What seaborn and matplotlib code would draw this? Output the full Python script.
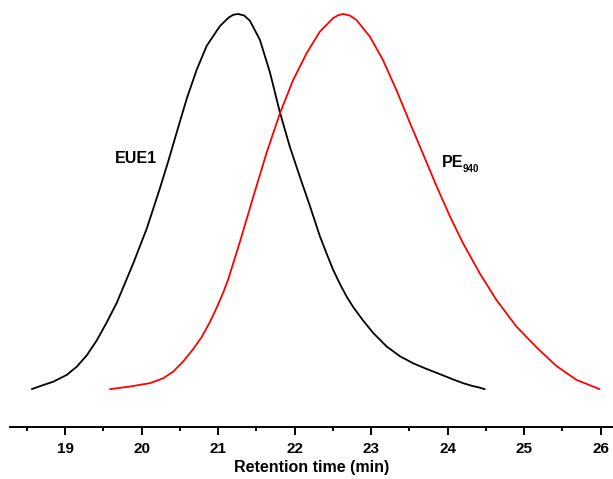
import matplotlib
matplotlib.use("Agg")
import matplotlib.pyplot as plt
import seaborn as sns
import pandas as pd
from matplotlib.ticker import MultipleLocator

# Data (retention time in min, normalized intensity)
eue1_time = [18.565, 18.674, 18.847, 19.022, 19.153, 19.283, 19.414, 19.544, 19.675,
             19.892, 20.067, 20.240, 20.349, 20.458, 20.589, 20.719, 20.850, 21.024,
             21.140, 21.200, 21.262, 21.340, 21.415, 21.546, 21.676, 21.807, 21.937,
             22.068, 22.198, 22.329, 22.416, 22.503, 22.590, 22.678, 22.764, 22.894,
             23.025, 23.200, 23.373, 23.547, 23.722, 23.873, 24.069, 24.200, 24.330,
             24.400, 24.483]
eue1_signal = [0.0, 0.008, 0.020, 0.038, 0.060, 0.090, 0.130, 0.178, 0.230,
               0.336, 0.428, 0.536, 0.608, 0.684, 0.774, 0.851, 0.915, 0.968,
               0.991, 0.998, 1.0, 0.996, 0.982, 0.931, 0.845, 0.738, 0.646,
               0.566, 0.489, 0.408, 0.362, 0.318, 0.281, 0.247, 0.219, 0.183,
               0.150, 0.114, 0.088, 0.069, 0.054, 0.042, 0.026, 0.016, 0.008,
               0.005, 0.0]

pe_time = [19.587, 19.849, 20.110, 20.283, 20.414, 20.544, 20.675, 20.785, 20.893,
           20.981, 21.067, 21.132, 21.285, 21.458, 21.633, 21.807, 21.980, 22.155,
           22.329, 22.503, 22.570, 22.633, 22.720, 22.808, 22.982, 23.155, 23.330,
           23.504, 23.678, 23.852, 24.026, 24.200, 24.418, 24.636, 24.897, 25.158,
           25.419, 25.680, 25.984]
pe_signal = [0.0, 0.007, 0.016, 0.029, 0.047, 0.074, 0.107, 0.139, 0.179,
             0.217, 0.258, 0.293, 0.393, 0.512, 0.630, 0.735, 0.824, 0.895,
             0.953, 0.989, 0.997, 1.0, 0.996, 0.984, 0.940, 0.877, 0.797,
             0.711, 0.627, 0.542, 0.462, 0.389, 0.309, 0.238, 0.167, 0.112,
             0.062, 0.025, 0.0]

x_ticks = [19, 20, 21, 22, 23, 24, 25, 26]
x_label = "Retention time (min)"
label_eue1 = "EUE1"
label_pe = "PE"
label_pe_sub = "940"

sns.set_style("ticks")
plt.rcParams["font.family"] = ["Liberation Sans", "DejaVu Sans"]
plt.rcParams["text.color"] = "black"
plt.rcParams["axes.labelcolor"] = "black"
plt.rcParams["xtick.color"] = "black"
plt.rcParams["axes.edgecolor"] = "black"

fig = plt.figure(figsize=(6.13, 4.79), dpi=100)
ax = fig.add_axes([10 / 613, 52.5 / 479, 603 / 613, 426.5 / 479])

df1 = pd.DataFrame({"t": eue1_time, "s": eue1_signal})
df2 = pd.DataFrame({"t": pe_time, "s": pe_signal})
sns.lineplot(data=df1, x="t", y="s", ax=ax, color="black", lw=1.3, sort=False)
sns.lineplot(data=df2, x="t", y="s", ax=ax, color="#ff0000", lw=1.3, sort=False)

ax.set_xlim(18.28, 26.16)
ax.set_ylim(-0.0996, 1.0373)

sns.despine(ax=ax, left=True, top=True, right=True)
ax.spines["bottom"].set_linewidth(1.4)
ax.spines["bottom"].set_color("black")
ax.set_yticks([])
ax.set_xticks(x_ticks)
ax.xaxis.set_minor_locator(MultipleLocator(0.5))
ax.tick_params(axis="x", which="major", direction="out", length=6, width=1.4,
               labelsize=11, pad=5.5, color="black", labelcolor="black")
ax.tick_params(axis="x", which="minor", direction="out", length=3.2, width=1.4,
               color="black")
for lab in ax.get_xticklabels():
    lab.set_fontweight("bold")
ax.set_xlabel(x_label, fontsize=11.5, fontweight="bold", labelpad=2.5, color="black")
ax.set_ylabel("")

ax.text(19.93, 0.616, label_eue1, ha="center", va="center",
        fontsize=11.5, fontweight="bold", color="black")
ax.text(23.92, 0.592, label_pe, ha="left", va="baseline",
        fontsize=11.5, fontweight="bold", color="black")
ax.annotate(label_pe_sub, xy=(23.92, 0.592), xytext=(15.3, -3.6),
            textcoords="offset points", ha="left", va="baseline",
            fontsize=7, fontweight="bold", color="black")

fig.savefig("out.png", dpi=100)
